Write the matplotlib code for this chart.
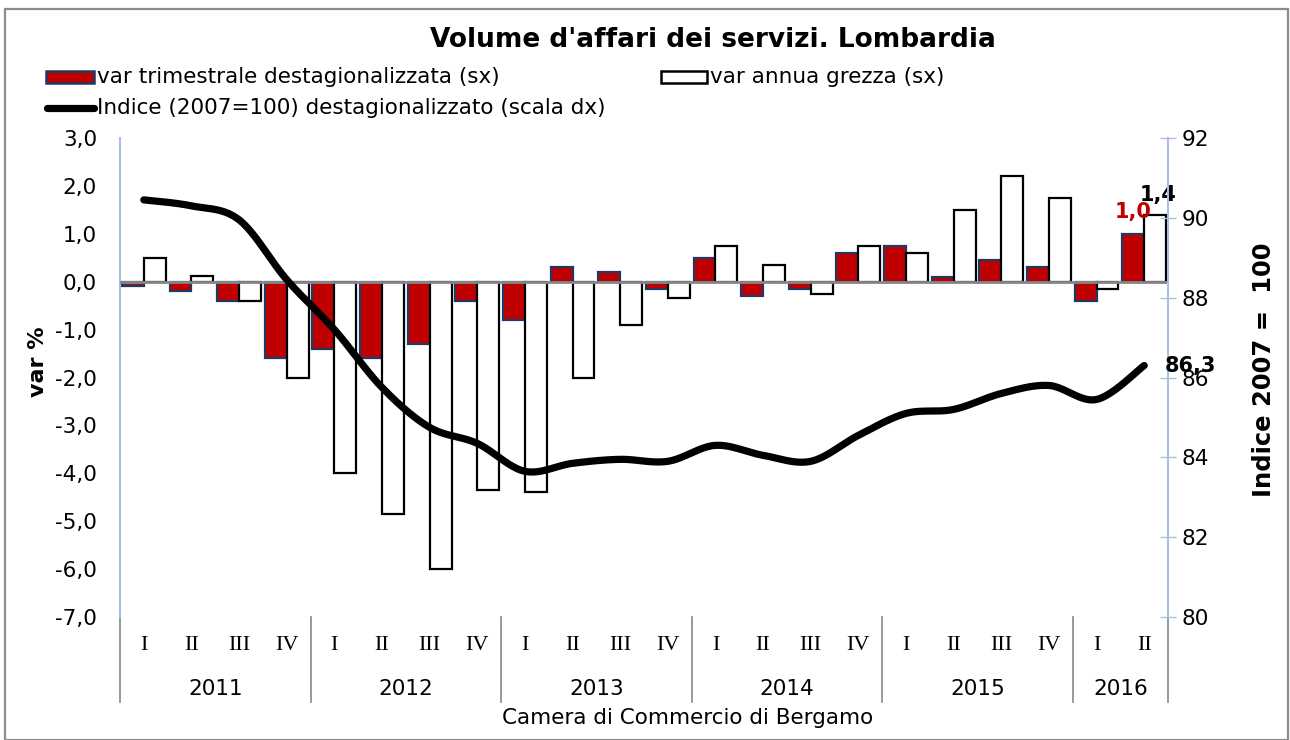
import numpy as np
import matplotlib
matplotlib.use("Agg")
import matplotlib.pyplot as plt
from matplotlib.patches import Rectangle
from matplotlib.lines import Line2D
from matplotlib.ticker import FuncFormatter, FixedLocator

# ---- data -------------------------------------------------------------
years = ["2011", "2012", "2013", "2014", "2015", "2016"]
quarters_per_year = [4, 4, 4, 4, 4, 2]
quarter_labels = ["I", "II", "III", "IV"] * 5 + ["I", "II"]

var_trim = [-0.1, -0.2, -0.4, -1.6, -1.4, -1.6, -1.3, -0.4, -0.8, 0.3, 0.2,
            -0.15, 0.5, -0.3, -0.15, 0.6, 0.75, 0.1, 0.45, 0.3, -0.4, 1.0]
var_annua = [0.5, 0.12, -0.4, -2.0, -4.0, -4.85, -6.0, -4.35, -4.4, -2.0, -0.9,
             -0.35, 0.75, 0.35, -0.25, 0.75, 0.6, 1.5, 2.2, 1.75, -0.15, 1.4]
indice = [90.45, 90.3, 89.95, 88.45, 87.2, 85.75, 84.75, 84.35, 83.65, 83.85, 83.95,
          83.9, 84.3, 84.05, 83.9, 84.55, 85.1, 85.2, 85.6, 85.8, 85.45, 86.3]

left_ticks = [3, 2, 1, 0, -1, -2, -3, -4, -5, -6, -7]
right_ticks = [80, 82, 84, 86, 88, 90, 92]

# ---- style ------------------------------------------------------------
RED = "#c00000"
NAVY = "#1f3864"
AXBLUE = "#a9bfe6"
GREY = "#878787"
FONT = "DejaVu Sans"
FS = 15.5

W, H = 1290, 740
fig = plt.figure(figsize=(W / 100, H / 100), dpi=100)
fig.patch.set_facecolor("white")

def fx(px):
    return px / W

def fy(py):
    return 1 - py / H

L, R, T, B = 120, 1168, 138, 617
ax = fig.add_axes([fx(L), fy(B), (R - L) / W, (B - T) / H])
ax2 = ax.twinx()

n = len(var_trim)
x = np.arange(n)
bw = 0.46

ax.bar(x - bw / 2, var_trim, width=bw, color=RED, edgecolor=NAVY,
       linewidth=1.6, zorder=2)
ax.bar(x + bw / 2, var_annua, width=bw, color="white", edgecolor="black",
       linewidth=1.6, zorder=2)
ax.axhline(0, color=GREY, lw=2, zorder=3)

ax.set_xlim(-0.5, n - 0.5)
ax.set_ylim(-7, 3)
ax.yaxis.set_major_locator(FixedLocator(left_ticks))
ax.yaxis.set_major_formatter(FuncFormatter(lambda v, p: f"{v:.1f}".replace(".", ",")))
ax.tick_params(axis="y", length=0, pad=16.5, labelsize=FS)
ax.set_xticks([])
for s in ("top", "bottom", "right"):
    ax.spines[s].set_visible(False)
ax.spines["left"].set_color(AXBLUE)
ax.spines["left"].set_linewidth(1.5)
for lbl in ax.get_yticklabels():
    lbl.set_fontfamily(FONT)


# smoothed index line (cubic Bezier through the quarterly points)
def smooth(xs, ys, sx, sy, steps=24):
    P = np.column_stack([np.asarray(xs, float) * sx, np.asarray(ys, float) * sy])
    out = [P[0]]
    t = np.linspace(0, 1, steps)[1:, None]
    for i in range(len(P) - 1):
        p0 = P[i - 1] if i > 0 else P[i]
        p1, p2 = P[i], P[i + 1]
        p3 = P[i + 2] if i + 2 < len(P) else P[i + 1]
        c1 = p1 + (p2 - p0) / 6
        c2 = p2 - (p3 - p1) / 6
        seg = (1 - t) ** 3 * p1 + 3 * (1 - t) ** 2 * t * c1 + 3 * (1 - t) * t ** 2 * c2 + t ** 3 * p2
        out.extend(seg)
    out = np.array(out)
    return out[:, 0] / sx, out[:, 1] / sy

sx_, sy_ = smooth(x, indice, 47.6, 39.9)
ax2.plot(sx_, sy_, color="black", lw=5.2, solid_capstyle="round", zorder=4)
ax2.set_ylim(80, 92)
ax2.yaxis.set_major_locator(FixedLocator(right_ticks))
ax2.tick_params(axis="y", direction="inout", length=12, width=1, color=AXBLUE,
                pad=4, labelsize=FS)
for s in ("top", "bottom", "left"):
    ax2.spines[s].set_visible(False)
ax2.spines["right"].set_color(AXBLUE)
ax2.spines["right"].set_linewidth(1.5)

# value labels on the last quarter
ax.annotate(f"{var_annua[-1]:.1f}".replace(".", ","), (x[-1] + bw / 2, var_annua[-1]),
            xytext=(2, 14), textcoords="offset points", ha="center", va="center",
            fontsize=FS - 0.5, fontweight="bold", color="black", family=FONT, zorder=5)
ax.annotate(f"{var_trim[-1]:.1f}".replace(".", ","), (x[-1] - bw / 2, var_trim[-1]),
            xytext=(0, 16), textcoords="offset points", ha="center", va="center",
            fontsize=FS - 0.5, fontweight="bold", color=RED, family=FONT, zorder=5)
ax2.annotate(f"{indice[-1]:.1f}".replace(".", ","), (x[-1], indice[-1]),
             xytext=(15, 0), textcoords="offset points", ha="left", va="center",
             fontsize=FS - 0.5, fontweight="bold", color="black", family=FONT, zorder=5,
             annotation_clip=False)

# two-level category axis
tr = ax.get_xaxis_transform()
def ay(py):
    return (B - py) / (B - T)

for i, q in enumerate(quarter_labels):
    ax.text(i, ay(645), q, transform=tr, ha="center", va="center",
            fontsize=FS + 0.5, family="Liberation Serif", color="black")

start = 0
bounds = [-0.5]
for yr, cnt in zip(years, quarters_per_year):
    ax.text(start + (cnt - 1) / 2, ay(689), yr, transform=tr, ha="center",
            va="center", fontsize=FS, family=FONT)
    start += cnt
    bounds.append(start - 0.5)
for b in bounds:
    ax.add_line(Line2D([b, b], [0, ay(702)], transform=tr, color=GREY, lw=1.2,
                       clip_on=False))

# axis titles
fig.text(fx(38), fy(362), "var %", rotation=90, ha="center", va="center",
         fontsize=16, fontweight="bold", family=FONT)
fig.text(fx(1264), fy(370), "Indice 2007 =  100", rotation=90, ha="center",
         va="center", fontsize=17.5, fontweight="bold", family=FONT)

# title and source
fig.text(fx(713), fy(40), "Volume d'affari dei servizi. Lombardia", ha="center",
         va="center", fontsize=19, fontweight="bold", family=FONT)
fig.text(fx(688), fy(718), "Camera di Commercio di Bergamo", ha="center",
         va="center", fontsize=FS, family=FONT)

# legend keys
def key_rect(x0, x1, yc, face, edge):
    fig.add_artist(Rectangle((fx(x0), fy(yc + 6)), (x1 - x0) / W, 12 / H,
                             transform=fig.transFigure, facecolor=face,
                             edgecolor=edge, linewidth=1.8))

key_rect(46, 94, 77, RED, NAVY)
fig.text(fx(97), fy(77), "var trimestrale destagionalizzata (sx)", ha="left",
         va="center", fontsize=FS, family=FONT)
key_rect(661, 707, 77, "white", "black")
fig.text(fx(710), fy(77), "var annua grezza (sx)", ha="left", va="center",
         fontsize=FS, family=FONT)
fig.add_artist(Line2D([fx(47), fx(94)], [fy(108), fy(108)], transform=fig.transFigure,
                      color="black", lw=5.2, solid_capstyle="round"))
fig.text(fx(97), fy(108), "Indice (2007=100) destagionalizzato (scala dx)",
         ha="left", va="center", fontsize=FS, family=FONT)

# outer frame
fig.add_artist(Rectangle((fx(5), 0.0), fx(1283), fy(9), transform=fig.transFigure,
                         facecolor="none", edgecolor="#8c8c8c", linewidth=1.6))

fig.savefig("out.png", dpi=100, facecolor="white")
